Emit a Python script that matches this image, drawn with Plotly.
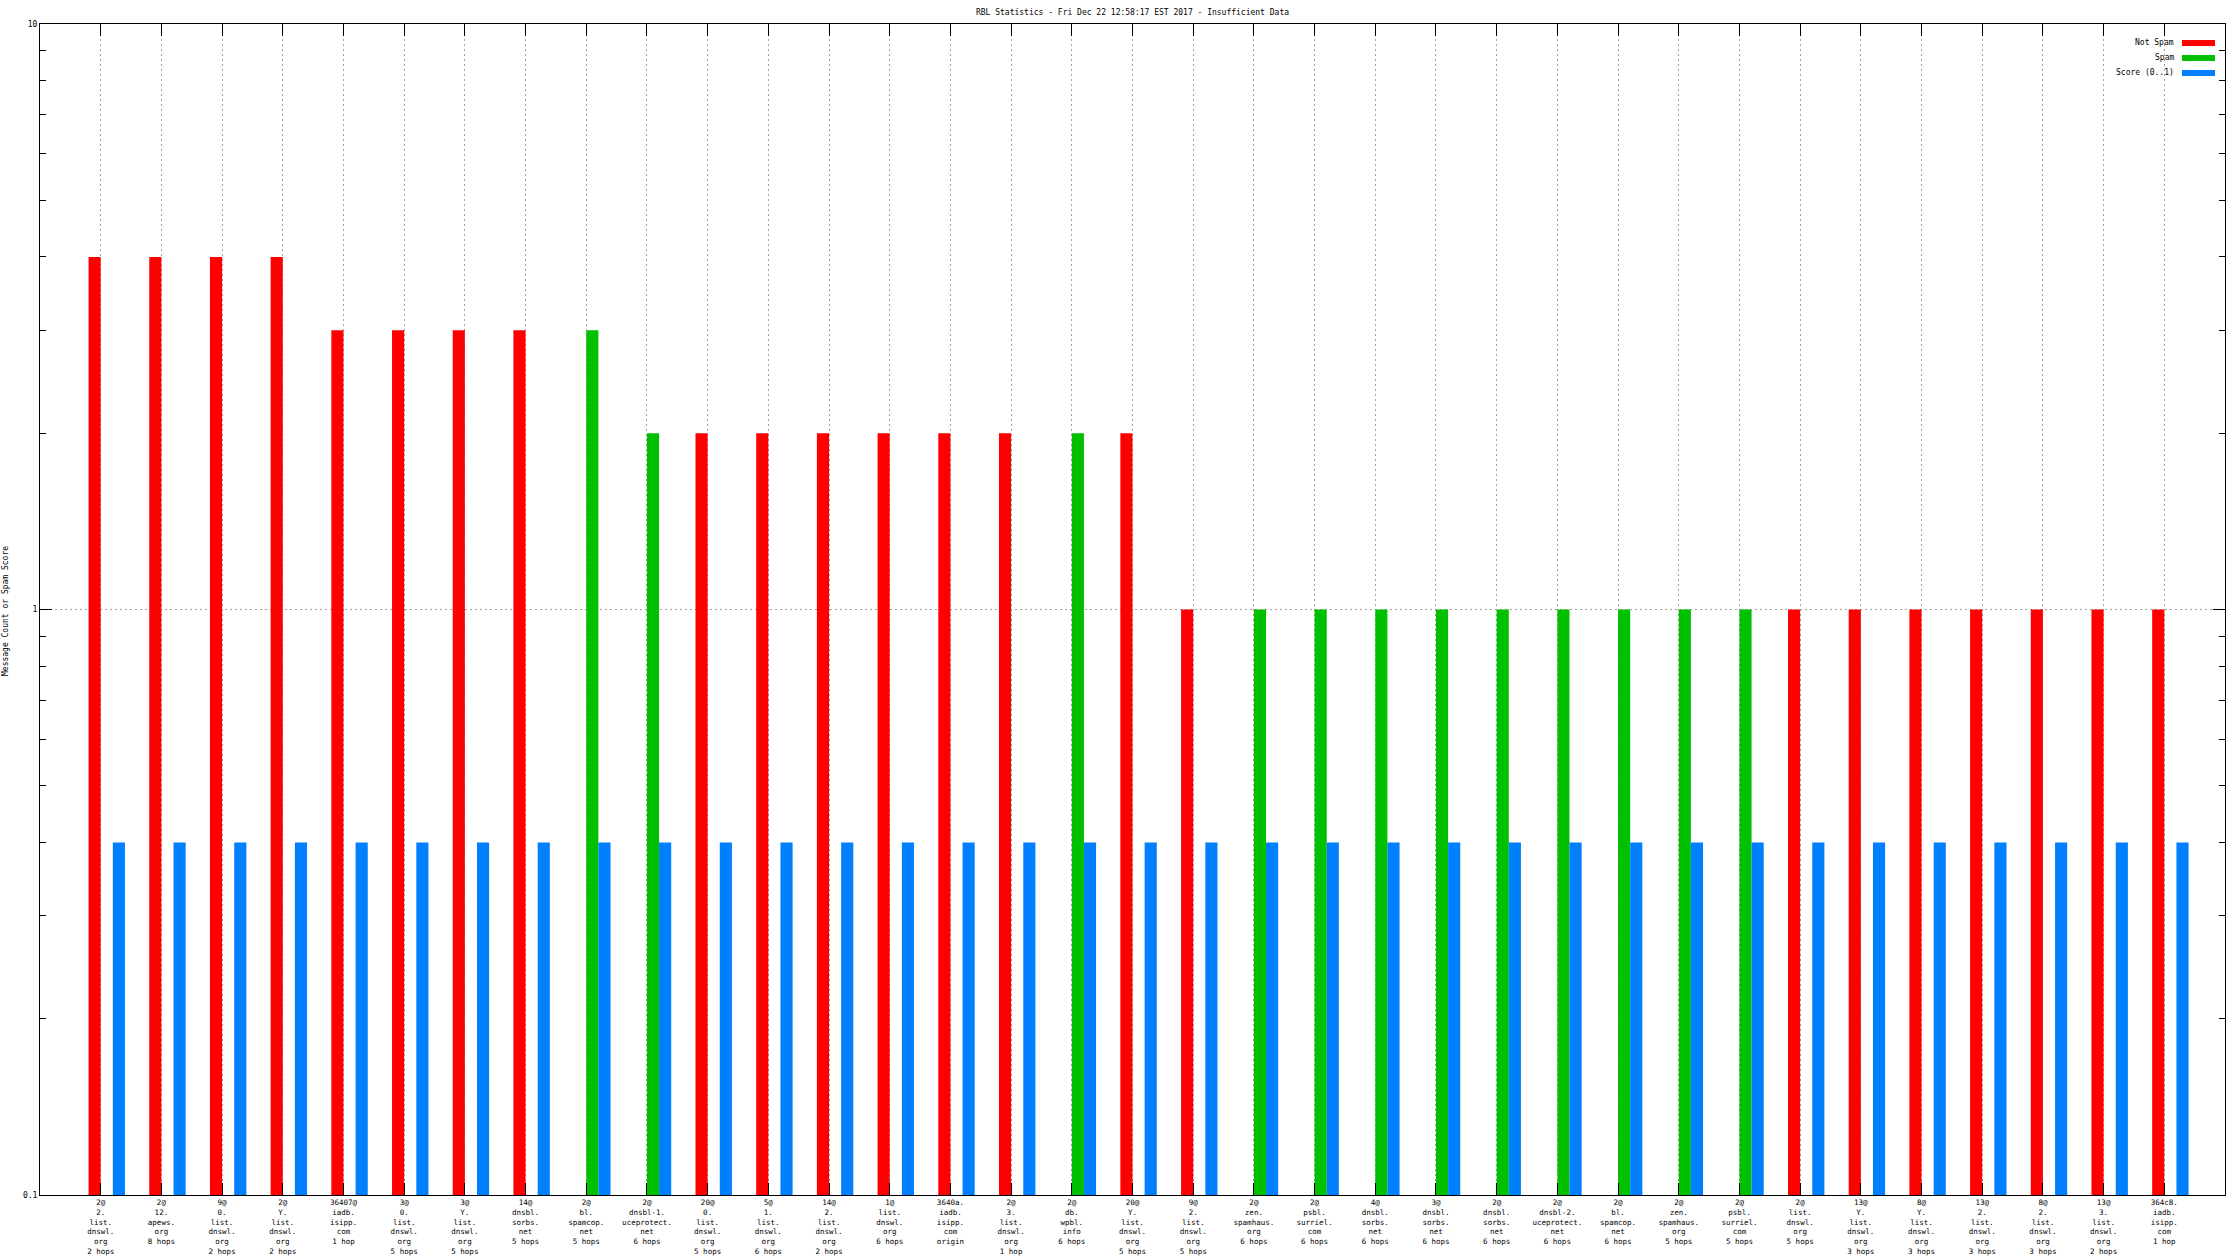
import plotly.graph_objects as go

categories = [
    "2@<br>2.<br>list.<br>dnswl.<br>org<br>2 hops",
    "2@<br>12.<br>apews.<br>org<br>8 hops",
    "9@<br>0.<br>list.<br>dnswl.<br>org<br>2 hops",
    "2@<br>Y.<br>list.<br>dnswl.<br>org<br>2 hops",
    "36407@<br>iadb.<br>isipp.<br>com<br>1 hop",
    "3@<br>0.<br>list.<br>dnswl.<br>org<br>5 hops",
    "3@<br>Y.<br>list.<br>dnswl.<br>org<br>5 hops",
    "14@<br>dnsbl.<br>sorbs.<br>net<br>5 hops",
    "2@<br>bl.<br>spamcop.<br>net<br>5 hops",
    "2@<br>dnsbl-1.<br>uceprotect.<br>net<br>6 hops",
    "20@<br>0.<br>list.<br>dnswl.<br>org<br>5 hops",
    "5@<br>1.<br>list.<br>dnswl.<br>org<br>6 hops",
    "14@<br>2.<br>list.<br>dnswl.<br>org<br>2 hops",
    "1@<br>list.<br>dnswl.<br>org<br>6 hops",
    "3640a.<br>iadb.<br>isipp.<br>com<br>origin",
    "2@<br>3.<br>list.<br>dnswl.<br>org<br>1 hop",
    "2@<br>db.<br>wpbl.<br>info<br>6 hops",
    "20@<br>Y.<br>list.<br>dnswl.<br>org<br>5 hops",
    "9@<br>2.<br>list.<br>dnswl.<br>org<br>5 hops",
    "2@<br>zen.<br>spamhaus.<br>org<br>6 hops",
    "2@<br>psbl.<br>surriel.<br>com<br>6 hops",
    "4@<br>dnsbl.<br>sorbs.<br>net<br>6 hops",
    "3@<br>dnsbl.<br>sorbs.<br>net<br>6 hops",
    "2@<br>dnsbl.<br>sorbs.<br>net<br>6 hops",
    "2@<br>dnsbl-2.<br>uceprotect.<br>net<br>6 hops",
    "2@<br>bl.<br>spamcop.<br>net<br>6 hops",
    "2@<br>zen.<br>spamhaus.<br>org<br>5 hops",
    "2@<br>psbl.<br>surriel.<br>com<br>5 hops",
    "2@<br>list.<br>dnswl.<br>org<br>5 hops",
    "13@<br>Y.<br>list.<br>dnswl.<br>org<br>3 hops",
    "8@<br>Y.<br>list.<br>dnswl.<br>org<br>3 hops",
    "13@<br>2.<br>list.<br>dnswl.<br>org<br>3 hops",
    "8@<br>2.<br>list.<br>dnswl.<br>org<br>3 hops",
    "13@<br>3.<br>list.<br>dnswl.<br>org<br>2 hops",
    "364c8.<br>iadb.<br>isipp.<br>com<br>1 hop",
]

N = None
not_spam = [4, 4, 4, 4, 3, 3, 3, 3, N, N, 2, 2, 2, 2, 2, 2, N, 2,
            1, N, N, N, N, N, N, N, N, N, 1, 1, 1, 1, 1, 1, 1]
spam = [N, N, N, N, N, N, N, N, 3, 2, N, N, N, N, N, N, 2, N,
        N, 1, 1, 1, 1, 1, 1, 1, 1, 1, N, N, N, N, N, N, N]
score = [0.4] * 35

y_tickvals = [0.1, 1, 10]
y_ticktext = ["0.1", "1", "10"]
y_minor_vals = [0.2, 0.3, 0.4, 0.5, 0.6, 0.7, 0.8, 0.9, 2, 3, 4, 5, 6, 7, 8, 9]

title_text = "RBL Statistics - Fri Dec 22 12:58:17 EST 2017 - Insufficient Data"
y_title = "Message Count or Spam Score"
legend_names = ["Not Spam", "Spam", "Score (0..1)"]
colors = ["#ff0000", "#00c000", "#0080ff"]

x = list(range(1, len(categories) + 1))
FONT = "DejaVu Sans Mono"

W, H = 2240, 1260
L, R, T, B = 40, 2225, 24, 1195

fig = go.Figure()
for vals, name, col, off in [(not_spam, legend_names[0], colors[0], -0.2),
                             (spam, legend_names[1], colors[1], 0.0),
                             (score, legend_names[2], colors[2], 0.2)]:
    fig.add_trace(go.Bar(x=x, y=vals, name=name, marker=dict(color=col, line=dict(width=0)),
                         offset=off, width=0.2, showlegend=False))


def px(xp):
    return (xp - L) / (R - L)


def py(yp):
    return (B - yp) / (B - T)


# custom legend (text right-aligned, sample on the right)
for i, (name, col) in enumerate(zip(legend_names, colors)):
    yc = 43 + 15 * i
    fig.add_annotation(x=px(2176), y=py(yc), xref="paper", yref="paper", text=name,
                       showarrow=False, xanchor="right", yanchor="middle",
                       font=dict(family=FONT, size=8, color="black"))
    fig.add_shape(type="rect", xref="paper", yref="paper", x0=px(2182), x1=px(2215),
                  y0=py(yc + 3), y1=py(yc - 3), fillcolor=col, line=dict(width=0))

fig.add_annotation(x=px(6), y=py(611), xref="paper", yref="paper", text=y_title,
                   showarrow=False, textangle=-90, xanchor="center", yanchor="middle",
                   font=dict(family=FONT, size=8, color="black"))

fig.update_layout(
    width=W, height=H,
    margin=dict(l=L, r=W - R, t=T, b=H - B, pad=0, autoexpand=False),
    paper_bgcolor="white", plot_bgcolor="white",
    barmode="overlay",
    font=dict(family=FONT, size=8, color="black"),
    title=dict(text=title_text, x=0.5, xref="paper", xanchor="center",
               y=1 - 12 / H, yref="container", yanchor="middle", automargin=False,
               font=dict(family=FONT, size=8, color="black")),
    xaxis=dict(range=[0, 36], tickmode="array", tickvals=x, ticktext=categories,
               ticks="inside", ticklen=12, tickcolor="black", tickwidth=1,
               showline=True, linecolor="black", linewidth=1, mirror="ticks",
               showgrid=True, gridcolor="#a0a0a0", gridwidth=1, griddash="2px,3px",
               zeroline=False, tickangle=0, automargin=False,
               tickfont=dict(family=FONT, size=7.5)),
    yaxis=dict(type="log", range=[-1, 1], tickmode="array", tickvals=y_tickvals,
               ticktext=y_ticktext, ticks="inside", ticklen=12, tickcolor="black",
               showline=True, linecolor="black", linewidth=1, mirror="ticks",
               showgrid=True, gridcolor="#a0a0a0", gridwidth=1, griddash="2px,3px",
               zeroline=False, automargin=False, tickfont=dict(family=FONT, size=8),
               minor=dict(ticks="inside", ticklen=6, tickcolor="black",
                          tickvals=y_minor_vals, showgrid=False)),
)

fig.write_html("out.html",
               config={"displayModeBar": False},
               post_script="document.body.style.margin='0';"
                           "document.body.style.overflow='hidden';")
